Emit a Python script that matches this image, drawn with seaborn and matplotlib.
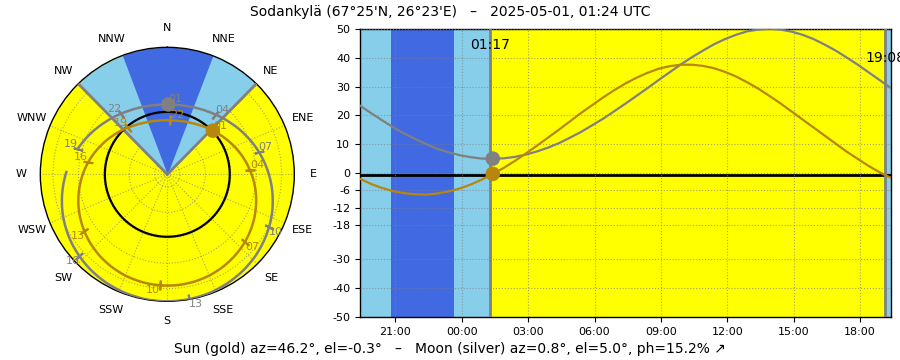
import numpy as np
import matplotlib
matplotlib.use("Agg")
import matplotlib.pyplot as plt
import seaborn as sns

# ---------------- data ----------------
# hours relative to 2025-05-01 00:00 UTC (19:24 on the previous day ... 19:24)
hours = [-4.6, -4.1, -3.6, -3.1, -2.6, -2.1, -1.6, -1.1, -0.6, -0.1, 0.4, 0.9, 1.4,
         1.9, 2.4, 2.9, 3.4, 3.9, 4.4, 4.9, 5.4, 5.9, 6.4, 6.9, 7.4, 7.9, 8.4, 8.9,
         9.4, 9.9, 10.4, 10.9, 11.4, 11.9, 12.4, 12.9, 13.4, 13.9, 14.4, 14.9, 15.4,
         15.9, 16.4, 16.9, 17.4, 17.9, 18.4, 18.9, 19.4]
sun_el = [-2.0, -3.8, -5.2, -6.3, -7.0, -7.4, -7.5, -7.1, -6.4, -5.4, -4.0, -2.3, -0.3,
          1.8, 4.2, 6.8, 9.5, 12.3, 15.1, 18.0, 20.9, 23.6, 26.3, 28.8, 31.1, 33.1, 34.8,
          36.2, 37.1, 37.6, 37.6, 37.2, 36.4, 35.1, 33.5, 31.5, 29.3, 26.8, 24.2, 21.4,
          18.6, 15.8, 13.0, 10.2, 7.4, 4.9, 2.4, 0.2, -1.7]
sun_az = [319.9, 326.9, 334.0, 341.2, 348.5, 355.8, 3.1, 10.4, 17.6, 24.8, 32.0, 39.0,
          46.2, 52.9, 59.8, 66.6, 73.4, 80.2, 87.0, 93.9, 101.0, 108.2, 115.7, 123.3,
          131.2, 139.4, 147.9, 156.7, 165.6, 174.7, 183.8, 192.9, 201.9, 210.7, 219.2,
          227.5, 235.4, 243.1, 250.6, 257.9, 264.9, 271.9, 278.7, 285.6, 292.3, 299.1,
          306.0, 312.9, 319.9]
moon_el = [23.4, 20.8, 18.3, 15.9, 13.7, 11.8, 10.0, 8.4, 7.2, 6.2, 5.5, 5.0, 5.0,
           5.1, 5.6, 6.4, 7.5, 8.8, 10.4, 12.3, 14.3, 16.6, 18.9, 21.5, 24.1, 26.8, 29.5,
           32.3, 35.0, 37.7, 40.2, 42.5, 44.7, 46.5, 48.0, 49.2, 49.8, 50.1, 49.8, 49.1,
           48.0, 46.5, 44.6, 42.5, 40.1, 37.6, 34.9, 32.2, 29.5]
moon_az = [285.7, 292.0, 298.2, 304.4, 310.5, 316.7, 322.9, 329.2, 335.5, 341.8, 348.1,
           354.5, 0.8, 7.3, 13.6, 20.0, 26.3, 32.5, 38.8, 45.0, 51.2, 57.3, 63.5, 69.7,
           76.0, 82.4, 88.9, 95.6, 102.5, 109.7, 117.2, 125.0, 133.3, 142.0, 151.1, 160.5,
           170.3, 180.2, 190.0, 199.8, 209.2, 218.3, 227.0, 235.2, 243.1, 250.6, 257.7,
           264.6, 271.3]
now_idx = 12
mark_idx = [0, 6, 12, 18, 24, 30, 36, 42]
mark_labels = ["19", "22", "01", "04", "07", "10", "13", "16"]

span_start = [-4.6, -3.217, -0.367, 1.283, 19.133]
span_end = [-3.217, -0.367, 1.283, 19.133, 19.4]
span_colors = ["skyblue", "royalblue", "skyblue", "yellow", "skyblue"]

event_hours = [1.283, 19.133]
event_labels = ["01:17", "19:08"]
event_label_y = [44.5, 40.0]
event_az = [44.5, 315.5]

wedge_light = [315.5, 404.5]   # sun below horizon (through north)
wedge_dark = [339.3, 381.0]    # sun below -6 deg

direction_labels = ["N", "NNE", "NE", "ENE", "E", "ESE", "SE", "SSE",
                    "S", "SSW", "SW", "WSW", "W", "WNW", "NW", "NNW"]
xtick_hours = [-3, 0, 3, 6, 9, 12, 15, 18]
xtick_labels = ["21:00", "00:00", "03:00", "06:00", "09:00", "12:00", "15:00", "18:00"]
ytick_values = [50, 40, 30, 20, 10, 0, -6, -12, -18, -30, -40, -50]
polar_rticks = [-40, -20, 0, 20, 40]
horizon = -0.833

title = "Sodankylä (67°25'N, 26°23'E)   –   2025-05-01, 01:24 UTC"
footer = "Sun (gold) az=46.2°, el=-0.3°   –   Moon (silver) az=0.8°, el=5.0°, ph=15.2% ↗"

SUN_C = "darkgoldenrod"
MOON_C = "gray"

plt.rcParams["font.family"] = ["DejaVu Sans"]
fig = plt.figure(figsize=(9, 3.6), dpi=100)

# ---------------- polar sky chart ----------------
ax1 = fig.add_axes([0.0448, 0.163, 0.2822, 0.7056], projection="polar")
ax1.set_theta_zero_location("N")
ax1.set_theta_direction(-1)
ax1.set_facecolor("yellow")

for (a, b), c in [(wedge_light, "skyblue"), (wedge_dark, "royalblue")]:
    th = np.radians(np.linspace(a, b, 120))
    ax1.fill_between(th, -50, 50, color=c, lw=0, zorder=2)
for az in event_az:
    ax1.plot([np.radians(az)] * 2, [-50, 50], color="gray", lw=2, zorder=3)

circ = np.linspace(0, 2 * np.pi, 361)
ax1.plot(circ, np.full_like(circ, horizon), color="black", lw=1.6, zorder=3)

for az_list, el_list, col in [(moon_az, moon_el, MOON_C), (sun_az, sun_el, SUN_C)]:
    th = np.unwrap(np.radians(az_list))
    sns.lineplot(x=th, y=el_list, ax=ax1, color=col, lw=1.8, sort=False,
                 estimator=None, zorder=4)
    # let the polar projection draw each segment as a curve
    ax1.lines[-1].get_path()._interpolation_steps = 8
    for k, lab in zip(mark_idx, mark_labels):
        az = az_list[k]
        ax1.plot(np.radians(az), el_list[k], marker=(2, 2, -az), ms=7, mew=1.5,
                 color=col, zorder=5)
        ha = "left" if np.sin(np.radians(az)) >= 0 else "right"
        va = "bottom" if np.cos(np.radians(az)) >= 0 else "top"
        ax1.text(np.radians(az), el_list[k], lab, color=col, fontsize=8,
                 ha=ha, va=va, zorder=6)
    ax1.scatter([np.radians(az_list[now_idx])], [el_list[now_idx]], s=110,
                color=col, edgecolor="none", zorder=7)

ax1.set_ylim(-50, 50)
ax1.set_xticks(np.radians(np.arange(0, 360, 22.5)))
ax1.set_xticklabels(direction_labels, fontsize=8)
ax1.set_yticks(polar_rticks)
ax1.set_yticklabels([])
ax1.grid(True, linestyle=":", color="gray", lw=0.8, alpha=0.7)
ax1.spines["polar"].set_color("black")
ax1.spines["polar"].set_linewidth(1)
ax1.set_xlabel("")
ax1.set_ylabel("")

# ---------------- elevation time chart ----------------
ax2 = fig.add_axes([0.4, 0.1194, 0.59, 0.8])
for s, e, c in zip(span_start, span_end, span_colors):
    ax2.axvspan(s, e, color=c, lw=0, zorder=0)

sns.lineplot(x=hours, y=moon_el, ax=ax2, color=MOON_C, lw=1.6, sort=False,
             estimator=None, zorder=3)
sns.lineplot(x=hours, y=sun_el, ax=ax2, color=SUN_C, lw=1.6, sort=False,
             estimator=None, zorder=3)
ax2.axhline(horizon, color="black", lw=2, zorder=2.5)
for h in event_hours:
    ax2.axvline(h, color="gray", lw=2, zorder=2.6)
for h, lab, y in zip(event_hours, event_labels, event_label_y):
    ax2.text(h, y, lab, ha="center", va="center", fontsize=10, zorder=6)

sns.scatterplot(x=[hours[now_idx]], y=[moon_el[now_idx]], ax=ax2, s=110,
                color=MOON_C, edgecolor="none", zorder=5)
sns.scatterplot(x=[hours[now_idx]], y=[sun_el[now_idx]], ax=ax2, s=110,
                color=SUN_C, edgecolor="none", zorder=5)

ax2.set_xlim(hours[0], hours[-1])
ax2.set_ylim(-50, 50)
ax2.set_xticks(xtick_hours)
ax2.set_xticklabels(xtick_labels, fontsize=8)
ax2.set_yticks(ytick_values)
ax2.set_yticklabels([str(v) for v in ytick_values], fontsize=8)
ax2.grid(True, linestyle=":", color="gray", lw=0.8, alpha=0.7)
ax2.set_axisbelow(False)
for sp in ax2.spines.values():
    sp.set_color("black")
    sp.set_linewidth(1)
ax2.set_xlabel("")
ax2.set_ylabel("")

fig.text(0.5, 0.968, title, ha="center", va="center", fontsize=10)
fig.text(0.5, 0.031, footer, ha="center", va="center", fontsize=10)

fig.savefig("out.png", dpi=100)
